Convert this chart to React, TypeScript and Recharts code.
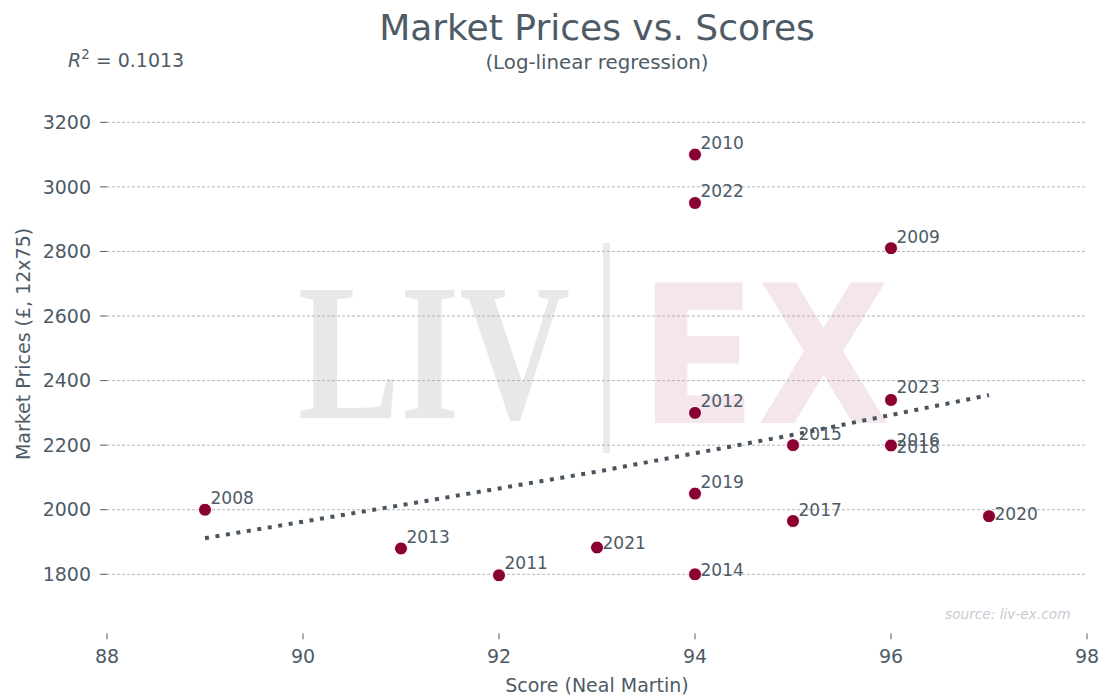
import React from 'react';
import { ScatterChart, Scatter, XAxis, YAxis, CartesianGrid } from 'recharts';

const vintages = ['2008', '2013', '2011', '2021', '2010', '2022', '2012', '2019', '2014', '2015', '2017', '2009', '2023', '2016', '2018', '2020'];
const scores = [89, 91, 92, 93, 94, 94, 94, 94, 94, 95, 95, 96, 96, 96, 96, 97];
const prices = [2000, 1880, 1797, 1883, 3100, 2950, 2300, 2050, 1800, 2200, 1965, 2810, 2340, 2201, 2199, 1980];

const trendScores = [89, 91, 93, 95, 97];
const trendPrices = [1912, 2014, 2118, 2232, 2355];

const xTicks = [88, 90, 92, 94, 96, 98];
const yTicks = [1800, 2000, 2200, 2400, 2600, 2800, 3000, 3200];
const xDomain = [88, 98];
const yDomain = [1617, 3410];

const TITLE = 'Market Prices vs. Scores';
const SUBTITLE = '(Log-linear regression)';
const R2_VALUE = '0.1013';
const X_LABEL = 'Score (Neal Martin)';
const Y_LABEL = 'Market Prices (£, 12x75)';
const SOURCE = 'source: liv-ex.com';

// per-label vertical nudges (pixels) for annotation placement, as in the reference
const LABEL_DY_DEFAULT = -6;
const labelDy: Record<string, number> = { '2013': -5, '2021': 1, '2014': 2, '2015': -5, '2017': -5, '2009': -5, '2023': -7, '2016': 1, '2018': 7.5, '2020': 3.5 };

const FONT = '"DejaVu Sans", sans-serif';
const TXT = '#4e5b66';
const DOT = '#8a0032';

const points = vintages.map((v, i) => ({ x: scores[i], y: prices[i], year: v }));
const trend = trendScores.map((s, i) => ({ x: s, y: trendPrices[i] }));

const PointShape = (props: any) => {
  const { cx, cy, payload } = props;
  if (cx == null || cy == null) return <g />;
  const dy = labelDy[payload.year] ?? LABEL_DY_DEFAULT;
  return (
    <g>
      <circle cx={cx} cy={cy} r={6.5} fill={DOT} stroke="#ffffff" strokeWidth={1} />
      <text x={cx + 5.5} y={cy + dy} fill={TXT} fontSize={17} fontFamily={FONT}>
        {payload.year}
      </text>
    </g>
  );
};

const renderYLabel = (props: any) => {
  const vb = props.viewBox || {};
  const cx = 23;
  const cy = (vb.y ?? 0) + (vb.height ?? 0) / 2;
  return (
    <text
      x={cx}
      y={cy}
      transform={`rotate(-90 ${cx} ${cy})`}
      textAnchor="middle"
      dominantBaseline="central"
      fill={TXT}
      fontSize={19}
      fontFamily={FONT}
    >
      {Y_LABEL}
    </text>
  );
};

const renderXLabel = (props: any) => {
  const vb = props.viewBox || {};
  const cx = (vb.x ?? 0) + (vb.width ?? 0) / 2;
  return (
    <text x={cx} y={692} textAnchor="middle" fill={TXT} fontSize={19} fontFamily={FONT}>
      {X_LABEL}
    </text>
  );
};

export default function App() {
  return (
    <div style={{ position: 'absolute', left: 0, top: 0, width: 1104, height: 700, background: '#ffffff' }}>
      <svg width={1104} height={700} style={{ position: 'absolute', left: 0, top: 0 }}>
        <text x={298} y={418} fontFamily='"Liberation Serif", serif' fontWeight="bold" fontSize={194} fill="#e8e8e8" textLength={272} lengthAdjust="spacingAndGlyphs">
          LIV
        </text>
        <rect x={603} y={243} width={7} height={210} fill="#ebebeb" />
        <text x={639} y={423} fontFamily={FONT} fontWeight="bold" fontSize={192} fill="#f4e6eb" textLength={251} lengthAdjust="spacingAndGlyphs">
          EX
        </text>
        <text x={597} y={39.5} textAnchor="middle" fontFamily={FONT} fontSize={36} fill={TXT}>
          {TITLE}
        </text>
        <text x={597} y={69} textAnchor="middle" fontFamily={FONT} fontSize={19.8} fill={TXT}>
          {SUBTITLE}
        </text>
        <text x={68} y={67} fontFamily={FONT} fontSize={19} fill={TXT}>
          <tspan fontStyle="italic">R</tspan>
          <tspan fontSize={13.3} dy={-8}>2</tspan>
          <tspan dy={8}>{' = ' + R2_VALUE}</tspan>
        </text>
        <text x={945} y={619} fontFamily={FONT} fontStyle="italic" fontSize={13.7} fill="#c8c9d3">
          {SOURCE}
        </text>
      </svg>
      <div style={{ position: 'absolute', left: 0, top: 0 }}>
        <ScatterChart width={1104} height={700} margin={{ top: 54.5, right: 17, bottom: 16.6, left: 0 }}>
          <CartesianGrid vertical={false} horizontalValues={yTicks} stroke="#a3a3a3" strokeWidth={0.8} strokeDasharray="3 2" />
          <XAxis
            type="number"
            dataKey="x"
            domain={xDomain}
            ticks={xTicks}
            allowDataOverflow
            height={50}
            axisLine={false}
            tickLine={{ stroke: TXT }}
            tickSize={6}
            tickMargin={10}
            tick={{ fill: TXT, fontSize: 19, fontFamily: FONT }}
            label={renderXLabel}
          />
          <YAxis
            type="number"
            dataKey="y"
            domain={yDomain}
            ticks={yTicks}
            allowDataOverflow
            width={107}
            axisLine={false}
            tickLine={{ stroke: TXT }}
            tickSize={7}
            tickMargin={9}
            tick={{ fill: TXT, fontSize: 19, fontFamily: FONT }}
            label={renderYLabel}
          />
          <Scatter
            data={trend}
            line={{ stroke: '#4a545e', strokeWidth: 4, strokeDasharray: '4 6.6' }}
            shape={() => <g />}
            isAnimationActive={false}
          />
          <Scatter data={points} shape={PointShape} isAnimationActive={false} />
        </ScatterChart>
      </div>
    </div>
  );
}
